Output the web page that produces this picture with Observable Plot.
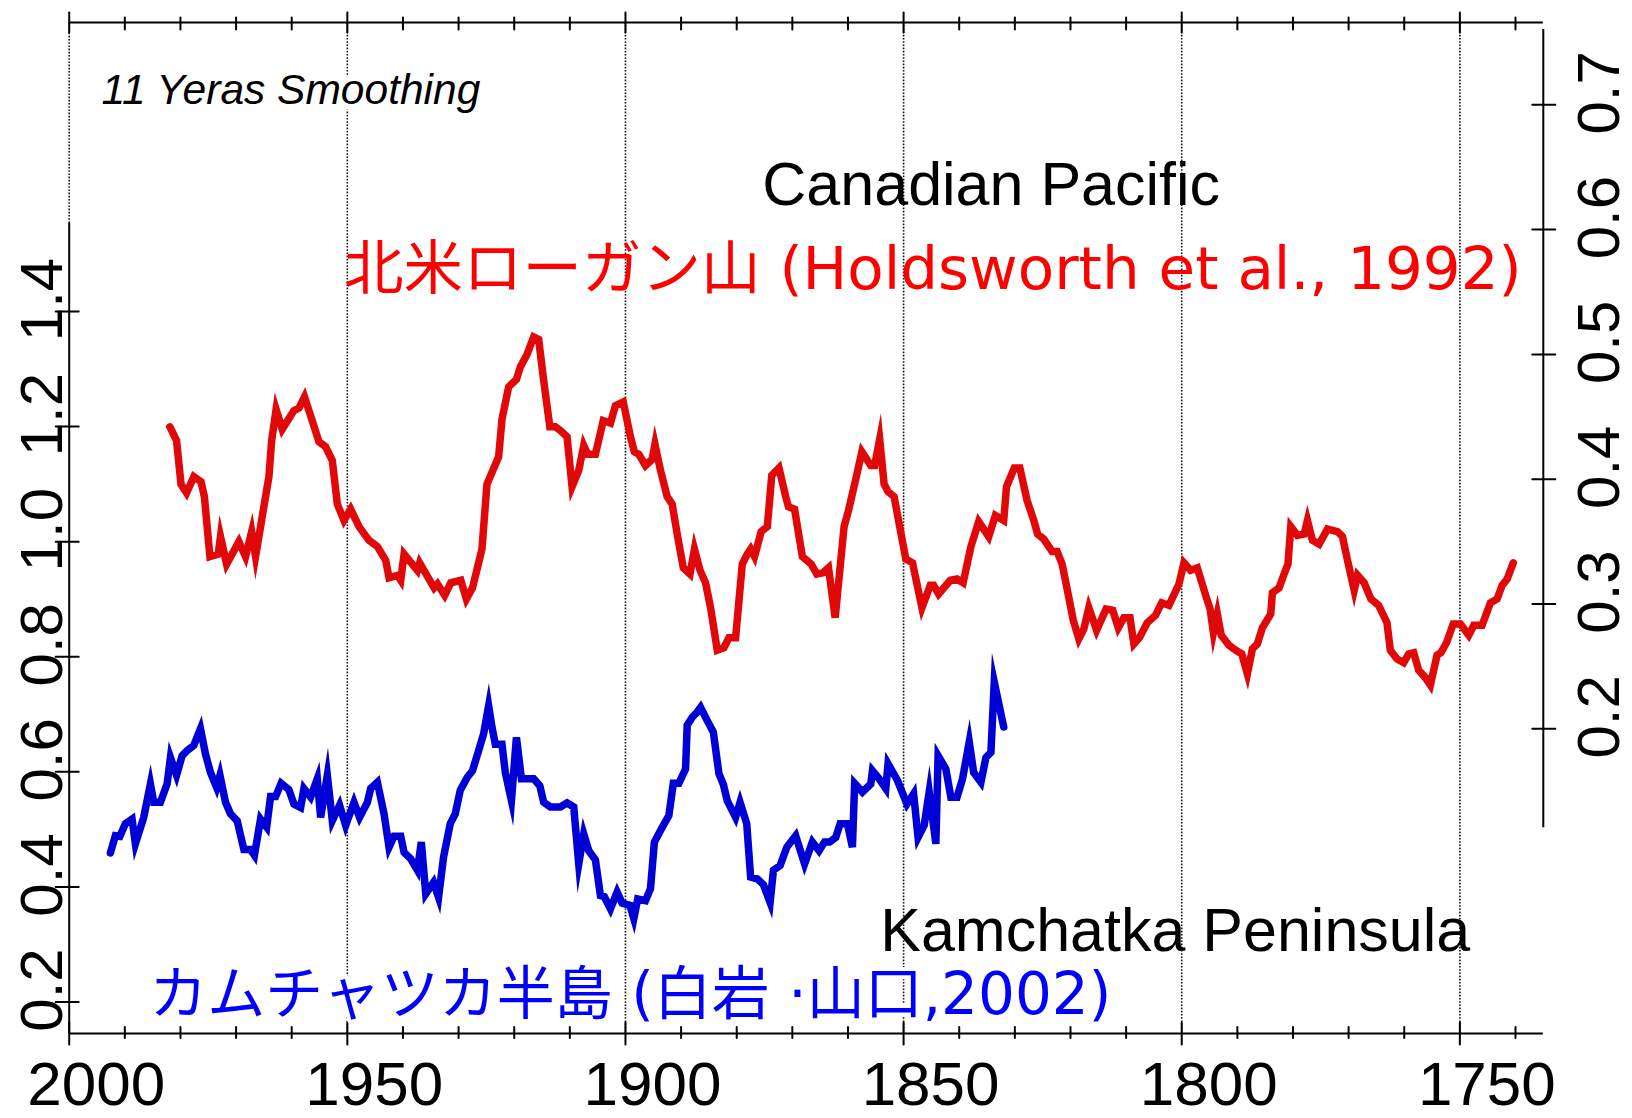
<!DOCTYPE html>
<html>
<head>
<meta charset="utf-8">
<script src="https://cdn.jsdelivr.net/npm/d3@7"></script>
<script src="https://cdn.jsdelivr.net/npm/@observablehq/plot@0.6"></script>
<style>
  html, body { margin: 0; padding: 0; background: #fff; }
</style>
</head>
<body>
<div id="chart"></div>
<script>
// Canadian Pacific — Mt. Logan record (Holdsworth et al., 1992), right-hand scale
const canadaYears = [
  1981.9, 1980.7, 1979.9, 1978.9, 1977.6, 1976.3, 1975.7, 1974.7, 1973.2, 1972.8,
  1971.7, 1969.5, 1968.3, 1967.2, 1966.5, 1965.3, 1964.1, 1963.6, 1962.8, 1961.7,
  1959.6, 1958.7, 1957.7, 1956.1, 1955.1, 1953.9, 1952.7, 1951.8, 1950.6, 1949.4,
  1947.9, 1946.1, 1944.6, 1943.1, 1942.5, 1941.0, 1940.4, 1939.8, 1937.4, 1937.0,
  1934.4, 1933.8, 1932.5, 1931.4, 1929.6, 1928.6, 1927.5, 1925.8, 1924.9, 1922.8,
  1922.2, 1921.0, 1919.6, 1918.9, 1917.7, 1916.5, 1915.6, 1914.7, 1913.6, 1912.6,
  1911.7, 1910.5, 1909.6, 1908.4, 1907.5, 1906.8, 1905.4, 1904.0, 1902.7, 1901.8,
  1900.4, 1899.1, 1898.4, 1897.6, 1896.4, 1895.2, 1894.7, 1893.7, 1892.5, 1891.6,
  1890.7, 1889.6, 1888.4, 1887.6, 1886.6, 1885.6, 1884.7, 1883.5, 1882.3, 1881.4,
  1880.2, 1879.0, 1878.1, 1877.5, 1876.8, 1875.6, 1874.5, 1873.7, 1872.4, 1871.2,
  1870.7, 1869.6, 1868.2, 1866.6, 1865.6, 1864.5, 1863.5, 1862.3, 1860.7, 1859.9,
  1858.5, 1857.5, 1855.9, 1855.2, 1854.3, 1853.5, 1852.8, 1851.7, 1850.7, 1849.6,
  1848.4, 1846.7, 1845.2, 1844.6, 1843.7, 1841.6, 1840.4, 1839.3, 1837.9, 1836.5,
  1834.7, 1833.5, 1832.0, 1831.5, 1830.1, 1829.1, 1827.8, 1826.6, 1825.9, 1824.8,
  1823.3, 1822.4, 1821.5, 1820.2, 1819.5, 1818.5, 1817.6, 1816.7, 1815.3, 1813.6,
  1812.4, 1811.4, 1810.4, 1809.3, 1808.6, 1807.6, 1806.2, 1804.7, 1803.6, 1802.3,
  1800.5, 1799.6, 1798.4, 1797.2, 1795.7, 1794.9, 1794.3, 1793.6, 1792.9, 1791.5,
  1790.3, 1789.2, 1788.2, 1787.3, 1786.4, 1785.5, 1784.0, 1783.7, 1782.5, 1781.6,
  1780.9, 1780.4, 1779.2, 1778.0, 1777.4, 1776.5, 1775.3, 1773.8, 1772.0, 1771.1,
  1770.2, 1769.0, 1768.4, 1767.2, 1766.0, 1764.6, 1763.1, 1762.5, 1761.3, 1760.1,
  1759.2, 1758.3, 1757.4, 1756.2, 1755.3, 1754.1, 1753.4, 1752.4, 1751.2, 1749.9,
  1748.4, 1747.5, 1746.0, 1744.5, 1743.3, 1742.4, 1741.5, 1740.4
];
const canadaValues = [
  0.442, 0.431, 0.396, 0.389, 0.402, 0.398, 0.386, 0.338, 0.340, 0.354,
  0.332, 0.350, 0.338, 0.358, 0.338, 0.370, 0.402, 0.431, 0.456, 0.440,
  0.455, 0.457, 0.466, 0.444, 0.430, 0.426, 0.415, 0.380, 0.367, 0.376,
  0.362, 0.351, 0.346, 0.335, 0.321, 0.323, 0.319, 0.340, 0.327, 0.333,
  0.313, 0.316, 0.307, 0.317, 0.319, 0.304, 0.313, 0.344, 0.396, 0.418,
  0.448, 0.474, 0.480, 0.490, 0.500, 0.514, 0.512, 0.479, 0.442, 0.442,
  0.439, 0.434, 0.394, 0.407, 0.427, 0.420, 0.420, 0.447, 0.445, 0.459,
  0.462, 0.434, 0.422, 0.420, 0.411, 0.416, 0.428, 0.407, 0.386, 0.380,
  0.356, 0.329, 0.324, 0.344, 0.327, 0.317, 0.297, 0.263, 0.265, 0.273,
  0.273, 0.332, 0.340, 0.344, 0.338, 0.358, 0.362, 0.403, 0.409, 0.386,
  0.378, 0.376, 0.338, 0.332, 0.324, 0.325, 0.329, 0.289, 0.362, 0.375,
  0.402, 0.422, 0.411, 0.411, 0.432, 0.396, 0.390, 0.386, 0.362, 0.336,
  0.333, 0.297, 0.315, 0.315, 0.308, 0.319, 0.320, 0.317, 0.346, 0.366,
  0.354, 0.371, 0.367, 0.394, 0.409, 0.409, 0.383, 0.367, 0.356, 0.352,
  0.342, 0.342, 0.332, 0.303, 0.287, 0.272, 0.280, 0.297, 0.279, 0.296,
  0.295, 0.281, 0.289, 0.289, 0.268, 0.273, 0.285, 0.291, 0.301, 0.299,
  0.316, 0.333, 0.327, 0.329, 0.307, 0.296, 0.277, 0.292, 0.275, 0.267,
  0.263, 0.260, 0.244, 0.264, 0.268, 0.281, 0.292, 0.309, 0.313, 0.324,
  0.332, 0.362, 0.355, 0.356, 0.367, 0.351, 0.348, 0.360, 0.358, 0.354,
  0.335, 0.311, 0.323, 0.317, 0.304, 0.299, 0.285, 0.263, 0.256, 0.253,
  0.260, 0.261, 0.247, 0.241, 0.235, 0.259, 0.261, 0.269, 0.284, 0.284,
  0.275, 0.283, 0.283, 0.301, 0.304, 0.315, 0.320, 0.333
];

// Kamchatka Peninsula (Shiraiwa & Yamaguchi, 2002), left-hand scale
const kamchatkaYears = [
  1992.6, 1991.7, 1990.9, 1989.9, 1988.7, 1988.1, 1986.6, 1985.4, 1984.8, 1983.6,
  1982.4, 1981.8, 1980.7, 1979.7, 1978.8, 1977.6, 1976.4, 1975.5, 1974.6, 1973.5,
  1972.9, 1971.9, 1971.0, 1969.8, 1968.6, 1967.4, 1966.7, 1965.6, 1964.5, 1963.8,
  1962.9, 1961.9, 1960.5, 1959.6, 1958.4, 1957.8, 1956.6, 1955.4, 1954.8, 1953.6,
  1952.7, 1951.4, 1950.3, 1948.8, 1947.8, 1946.4, 1945.8, 1944.6, 1943.4, 1942.5,
  1941.6, 1940.4, 1939.8, 1938.6, 1937.4, 1936.7, 1935.9, 1934.5, 1933.6, 1932.7,
  1931.5, 1930.6, 1929.7, 1928.4, 1927.5, 1926.4, 1925.5, 1924.6, 1924.0, 1923.4,
  1922.2, 1921.6, 1920.5, 1919.6, 1918.7, 1916.5, 1915.4, 1914.7, 1913.5, 1911.7,
  1910.5, 1909.3, 1908.4, 1907.5, 1906.6, 1905.4, 1904.5, 1903.8, 1902.7, 1901.5,
  1900.6, 1899.2, 1898.5, 1897.8, 1896.4, 1895.5, 1894.8, 1893.7, 1892.2, 1891.4,
  1890.4, 1889.2, 1888.9, 1888.0, 1887.1, 1886.5, 1885.3, 1884.2, 1883.2, 1882.4,
  1881.7, 1880.2, 1879.4, 1878.2, 1877.5, 1876.3, 1875.2, 1874.0, 1873.4, 1872.2,
  1871.0, 1869.4, 1867.8, 1866.4, 1865.2, 1864.2, 1863.3, 1862.2, 1861.4, 1860.1,
  1859.2, 1858.8, 1857.4, 1855.9, 1855.6, 1854.4, 1853.2, 1852.8, 1851.1, 1849.4,
  1848.2, 1847.4, 1846.3, 1845.4, 1844.2, 1843.8, 1842.4, 1841.5, 1840.4, 1839.4,
  1838.2, 1837.4, 1836.1, 1835.2, 1834.3, 1833.7, 1832.0
];
const kamchatkaValues = [
  0.459, 0.489, 0.488, 0.510, 0.518, 0.475, 0.521, 0.579, 0.547, 0.547,
  0.579, 0.625, 0.594, 0.628, 0.637, 0.646, 0.675, 0.631, 0.599, 0.573,
  0.594, 0.547, 0.527, 0.515, 0.465, 0.465, 0.455, 0.518, 0.504, 0.557,
  0.557, 0.580, 0.569, 0.544, 0.538, 0.571, 0.556, 0.588, 0.521, 0.594,
  0.515, 0.542, 0.507, 0.547, 0.521, 0.547, 0.571, 0.582, 0.527, 0.469,
  0.488, 0.488, 0.460, 0.449, 0.429, 0.478, 0.388, 0.408, 0.382, 0.452,
  0.510, 0.527, 0.568, 0.591, 0.602, 0.637, 0.666, 0.715, 0.678, 0.648,
  0.648, 0.599, 0.550, 0.660, 0.588, 0.588, 0.576, 0.547, 0.539, 0.539,
  0.546, 0.539, 0.440, 0.492, 0.463, 0.447, 0.385, 0.383, 0.362, 0.391,
  0.372, 0.368, 0.345, 0.379, 0.376, 0.397, 0.478, 0.498, 0.524, 0.580,
  0.580, 0.605, 0.681, 0.695, 0.704, 0.712, 0.689, 0.669, 0.597, 0.578,
  0.550, 0.521, 0.547, 0.510, 0.417, 0.414, 0.404, 0.373, 0.429, 0.437,
  0.469, 0.489, 0.440, 0.478, 0.463, 0.478, 0.478, 0.486, 0.510, 0.510,
  0.469, 0.580, 0.565, 0.579, 0.602, 0.588, 0.571, 0.614, 0.585, 0.544,
  0.562, 0.486, 0.507, 0.565, 0.475, 0.628, 0.605, 0.556, 0.556, 0.588,
  0.652, 0.599, 0.582, 0.625, 0.634, 0.756, 0.678
];

// Axis ticks
const leftTicks = [0.2, 0.4, 0.6, 0.8, 1.0, 1.2, 1.4];
const rightTicks = [0.2, 0.3, 0.4, 0.5, 0.6, 0.7];
const majorYears = [2000, 1950, 1900, 1850, 1800, 1750];
const minorYears = [1990, 1980, 1970, 1960, 1940, 1930, 1920, 1910,
                    1890, 1880, 1870, 1860, 1840, 1830, 1820, 1810,
                    1790, 1780, 1770, 1760, 1740];

// Vertical extent of the left-hand scale, and the two axes' visible spans
const Y_MIN = 0.1453, Y_MAX = 1.9023;
const LEFT_AXIS_TOP = 1.553;
const RIGHT_AXIS_SPAN = [0.503, 1.890];

// The right-hand values share the plot with the left-hand scale
const rightToLeft = r => 0.6748 + 2.1689 * (r - 0.2);

const canada = canadaYears.map((year, i) => ({year, value: canadaValues[i]}));
const kamchatka = kamchatkaYears.map((year, i) => ({year, value: kamchatkaValues[i]}));

// a plain straight tick for the vector mark
const tickShape = {draw(context, l) { context.moveTo(0, 0); context.lineTo(0, -l); }};

const mixedFont = "'DejaVu Sans', 'Noto Sans CJK JP', sans-serif";
const dotted = {stroke: "#111", strokeWidth: 1.6, strokeDasharray: "1.6,1.6"};
const axisLine = {stroke: "#000", strokeWidth: 2};
const tickStyle = {shape: tickShape, stroke: "#000", strokeWidth: 2, anchor: "middle"};
const seriesStyle = {strokeWidth: 7.5, strokeLinejoin: "miter", strokeMiterlimit: 8, strokeLinecap: "round"};

const chart = Plot.plot({
  width: 1632,
  height: 1118,
  marginLeft: 68.7,
  marginRight: 89.2,
  marginTop: 22,
  marginBottom: 85,
  x: {domain: [2000, 1735], axis: null},
  y: {domain: [Y_MIN, Y_MAX], axis: null},
  style: {fontFamily: "'Liberation Sans', Arial, sans-serif", background: "#fff", color: "#000"},
  marks: [
    // dotted year gridlines
    Plot.ruleX(majorYears.filter(d => d !== 2000), dotted),
    Plot.ruleX([2000], {...dotted, y1: LEFT_AXIS_TOP, y2: Y_MAX}),

    // frame lines and the two value axes
    Plot.ruleY([Y_MIN], axisLine),
    Plot.ruleY([Y_MAX], axisLine),
    Plot.ruleX([2000], {...axisLine, y1: Y_MIN, y2: LEFT_AXIS_TOP}),
    Plot.ruleX([1735], {...axisLine, y1: RIGHT_AXIS_SPAN[0], y2: RIGHT_AXIS_SPAN[1]}),

    // year ticks, bottom and top
    Plot.vector(majorYears, {x: d => d, frameAnchor: "bottom", length: 22, ...tickStyle}),
    Plot.vector(minorYears, {x: d => d, frameAnchor: "bottom", length: 11, dy: -1, ...tickStyle}),
    Plot.vector(majorYears, {x: d => d, frameAnchor: "top", length: 20, ...tickStyle}),
    Plot.vector(minorYears, {x: d => d, frameAnchor: "top", length: 12, dy: 1, ...tickStyle}),

    // value ticks, left and right
    Plot.vector(leftTicks, {y: d => d, frameAnchor: "left", length: 23, rotate: 90, dx: -2, ...tickStyle}),
    Plot.vector(rightTicks, {y: d => rightToLeft(d), frameAnchor: "right", length: 23, rotate: 90, dx: 0.5, ...tickStyle}),

    // tick labels
    Plot.text(majorYears, {x: d => d, text: d => String(d), frameAnchor: "bottom", lineAnchor: "top", dy: 27, dx: 27, fontSize: 62, fill: "#000"}),
    Plot.text(leftTicks, {y: d => d, text: d => d.toFixed(1), frameAnchor: "left", rotate: -90, textAnchor: "middle", lineAnchor: "bottom", dx: -7, dy: -12, fontSize: 60, fill: "#000"}),
    Plot.text(rightTicks, {y: d => rightToLeft(d), text: d => d.toFixed(1), frameAnchor: "right", rotate: -90, textAnchor: "middle", lineAnchor: "top", dx: 33, dy: -12, fontSize: 60, fill: "#000"}),

    // the two records
    Plot.line(canada, {x: "year", y: d => rightToLeft(d.value), stroke: "#e00808", ...seriesStyle}),
    Plot.line(kamchatka, {x: "year", y: "value", stroke: "#0000d6", ...seriesStyle}),

    // annotations
    Plot.text(["11 Yeras Smoothing"], {x: 1994.2, y: 1.7606, textAnchor: "start", lineAnchor: "bottom", fontSize: 42.5, fontStyle: "italic", fill: "#000", stroke: "#fff", strokeWidth: 12}),
    Plot.text(["Canadian Pacific"], {x: 1875.4, y: 1.586, textAnchor: "start", lineAnchor: "bottom", fontSize: 61, fill: "#000"}),
    Plot.text(["北米ローガン山 (Holdsworth et al., 1992)"], {x: 1950.6, y: 1.4383, textAnchor: "start", lineAnchor: "bottom", fontSize: 59.5, fontFamily: mixedFont, fill: "#ff0000"}),
    Plot.text(["Kamchatka Peninsula"], {x: 1854.2, y: 0.2895, textAnchor: "start", lineAnchor: "bottom", fontSize: 61, fill: "#000"}),
    Plot.text(["カムチャツカ半島 (白岩 ·山口,2002)"], {x: 1985.6, y: 0.18, textAnchor: "start", lineAnchor: "bottom", fontSize: 58, fontFamily: mixedFont, fill: "#0000ff", stroke: "#fff", strokeWidth: 8})
  ]
});

document.getElementById("chart").append(chart);
</script>
</body>
</html>
